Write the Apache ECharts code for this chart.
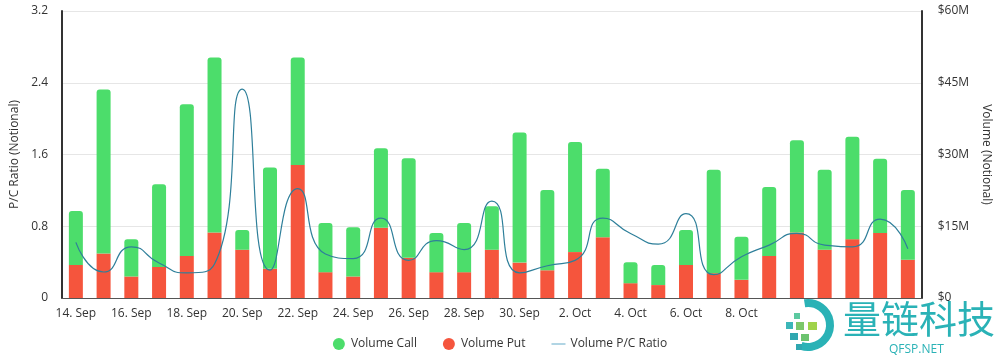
<!DOCTYPE html>
<html>
<head>
<meta charset="utf-8">
<script src="https://cdn.jsdelivr.net/npm/echarts@6/dist/echarts.min.js"></script>
<style>html,body{margin:0;padding:0;background:#fff}#c{width:1000px;height:361px}</style>
</head>
<body>
<div id="c"></div>
<script>
const categories = ['14. Sep','15. Sep','16. Sep','17. Sep','18. Sep','19. Sep','20. Sep','21. Sep','22. Sep','23. Sep','24. Sep','25. Sep','26. Sep','27. Sep','28. Sep','29. Sep','30. Sep','1. Oct','2. Oct','3. Oct','4. Oct','5. Oct','6. Oct','7. Oct','8. Oct','9. Oct','10. Oct','11. Oct','12. Oct','13. Oct','14. Oct'];
// Volumes in $M
const volumePut  = [6.9, 9.3, 4.5, 6.5, 8.8, 13.7, 10.1, 6.1, 27.8, 5.4, 4.5, 14.7, 8.4, 5.4, 5.4, 10.1, 7.4, 5.8, 9.6, 12.7, 3.1, 2.7, 6.9, 5.2, 3.8, 8.8, 13.7, 10.1, 12.3, 13.6, 8.0];
const volumeCall = [11.3, 34.3, 7.8, 17.3, 31.7, 36.6, 4.1, 21.2, 22.5, 10.3, 10.3, 16.6, 20.8, 8.2, 10.3, 9.1, 27.2, 16.8, 23.0, 14.3, 4.4, 4.2, 7.3, 21.6, 9.0, 14.4, 19.3, 16.7, 21.4, 15.5, 14.6];
const pcRatio    = [0.62, 0.29, 0.57, 0.39, 0.28, 0.38, 2.33, 0.31, 1.22, 0.49, 0.44, 0.89, 0.42, 0.64, 0.54, 1.08, 0.28, 0.36, 0.42, 0.89, 0.72, 0.60, 0.94, 0.26, 0.46, 0.59, 0.72, 0.59, 0.57, 0.88, 0.55];
const leftTicks = [0, 0.8, 1.6, 2.4, 3.2];
const rightTicks = [0, 15, 30, 45, 60];

const chart = echarts.init(document.getElementById('c'));
const font = '"Open Sans", sans-serif';
chart.setOption({
  animation: false,
  textStyle: { fontFamily: font },
  grid: { left: 62, right: 78, top: 11, bottom: 63 },
  legend: {
    bottom: 6, left: 'center', itemGap: 26, itemWidth: 14, itemHeight: 12,
    textStyle: { fontFamily: font, fontSize: 12, color: '#333' },
    data: [
      { name: 'Volume Call', icon: 'circle' },
      { name: 'Volume Put', icon: 'circle' },
      { name: 'Volume P/C Ratio', icon: 'path://M0,0 L16,0 L16,1.2 L0,1.2 Z', itemStyle: { color: '#6aaecb' } }
    ]
  },
  xAxis: {
    type: 'category', data: categories, boundaryGap: true,
    axisLine: { lineStyle: { color: '#555', width: 1 } },
    axisTick: { alignWithLabel: true, interval: 1, length: 6, lineStyle: { color: '#555' } },
    axisLabel: { interval: 1, color: '#333', fontSize: 12, margin: 10, fontFamily: font }
  },
  yAxis: [
    {
      type: 'value', min: leftTicks[0], max: leftTicks[leftTicks.length - 1], interval: 0.8,
      name: 'P/C Ratio (Notional)', nameLocation: 'middle', nameGap: 40, nameRotate: 90,
      nameTextStyle: { color: '#333', fontSize: 12, fontFamily: font },
      axisLine: { show: true, lineStyle: { color: '#333', width: 2 } },
      axisTick: { show: false },
      axisLabel: { color: '#333', fontSize: 12, margin: 14, formatter: v => v === 0 ? '0' : v.toFixed(1) },
      splitLine: { lineStyle: { color: '#e6e6e6' } }
    },
    {
      type: 'value', min: rightTicks[0], max: rightTicks[rightTicks.length - 1], interval: 15,
      name: 'Volume (Notional)', nameLocation: 'middle', nameGap: 58, nameRotate: -90,
      nameTextStyle: { color: '#333', fontSize: 12, fontFamily: font },
      axisLine: { show: true, lineStyle: { color: '#333', width: 2 } },
      axisTick: { show: false },
      axisLabel: { color: '#333', fontSize: 12, margin: 16, formatter: v => '$' + v + (v === 0 ? '' : 'M') },
      splitLine: { show: false }
    }
  ],
  series: [
    {
      name: 'Volume Put', type: 'bar', stack: 'vol', yAxisIndex: 1, barWidth: 14,
      itemStyle: { color: '#f5553d' }, data: volumePut, z: 2
    },
    {
      name: 'Volume Call', type: 'bar', stack: 'vol', yAxisIndex: 1, barWidth: 14,
      itemStyle: { color: '#4cdd6b', borderRadius: [3, 3, 0, 0] }, data: volumeCall, z: 2
    },
    {
      name: 'Volume P/C Ratio', type: 'line', yAxisIndex: 0, smooth: 0.6, symbol: 'none',
      lineStyle: { color: '#2e7f9a', width: 1.2 }, itemStyle: { color: '#6aaecb' },
      data: pcRatio, z: 3
    }
  ],
  graphic: [
    { type: 'rect', shape: { x: 778, y: 302, width: 222, height: 59 }, style: { fill: '#fff' }, z: 100 },
    { type: 'arc', shape: { cx: 808, cy: 325, r: 22, startAngle: -Math.PI * 0.55, endAngle: Math.PI * 0.6 }, style: { stroke: '#2ab2b6', lineWidth: 8, fill: null }, z: 101 },
    { type: 'rect', shape: { x: 794, y: 313, width: 6, height: 6 }, style: { fill: '#5cc9a0' }, z: 101 },
    { type: 'rect', shape: { x: 786, y: 322, width: 7, height: 7 }, style: { fill: '#3bb6b8' }, z: 101 },
    { type: 'rect', shape: { x: 796, y: 322, width: 8, height: 8 }, style: { fill: '#7cc86a' }, z: 101 },
    { type: 'rect', shape: { x: 808, y: 322, width: 9, height: 8 }, style: { fill: '#9fd34a' }, z: 101 },
    { type: 'rect', shape: { x: 790, y: 333, width: 8, height: 7 }, style: { fill: '#2fa7b0' }, z: 101 },
    { type: 'rect', shape: { x: 801, y: 334, width: 8, height: 7 }, style: { fill: '#6cc36f' }, z: 101 },
    { type: 'rect', shape: { x: 796, y: 344, width: 6, height: 6 }, style: { fill: '#2fa7b0' }, z: 101 },
    { type: 'text', left: 843, top: 300, style: { text: '量链科技', font: '400 38px "Noto Sans CJK SC"', fill: '#2ab2b6' }, z: 102 },
    { type: 'text', left: 889, top: 344, style: { text: 'QFSP.NET', font: '12px "Open Sans"', fill: '#2ab2b6', letterSpacing: 2 }, z: 102 }
  ]
});
</script>
</body>
</html>
